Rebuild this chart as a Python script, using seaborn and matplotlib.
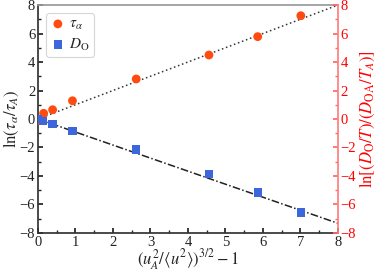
import numpy as np
import pandas as pd
import matplotlib
matplotlib.use("Agg")
import matplotlib.pyplot as plt
from matplotlib.ticker import MultipleLocator
import seaborn as sns

# data
x_tau = [0.0, 0.15, 0.39, 0.92, 2.62, 4.56, 5.86, 7.01]
y_tau = [-0.1, 0.4, 0.65, 1.28, 2.81, 4.49, 5.78, 7.25]
x_D = [0.0, 0.14, 0.39, 0.92, 2.62, 4.56, 5.87, 7.01]
y_D = [0.0, -0.13, -0.35, -0.82, -2.15, -3.86, -5.15, -6.55]
fit_x = [0.0, 8.0]
fit_tau = [0.0, 8.0]
fit_D = [0.0, -7.32]

sns.set_theme(style="ticks")
plt.rcParams['font.family'] = ['Liberation Serif', 'DejaVu Serif']
plt.rcParams['mathtext.fontset'] = 'stix'

fig = plt.figure(figsize=(3.78, 2.72), dpi=100)
ax = fig.add_axes([0.1005, 0.1434, 0.7935, 0.8382])

red = "#FF4A10"
blue = "#3D66DD"

sns.lineplot(x=fit_x, y=fit_tau, ax=ax, color="#333333", linestyle=(0, (1, 1.8)), lw=1.1, zorder=1)
sns.lineplot(x=fit_x, y=fit_D, ax=ax, color="#222222", linestyle=(0, (5, 1.5, 1, 1.5)), lw=1.1, zorder=1)
sns.scatterplot(x=x_tau, y=y_tau, ax=ax, color=red, marker="o", s=40, edgecolor="none",
                label=r"$\tau_\alpha$", zorder=3)
sns.scatterplot(x=x_D, y=y_D, ax=ax, color=blue, marker="s", s=36, edgecolor="none",
                label=r"$D_\mathrm{O}$", zorder=4)

ax.set_xlim(0, 8)
ax.set_ylim(-8, 8)
ax.xaxis.set_major_locator(MultipleLocator(1))
ax.xaxis.set_minor_locator(MultipleLocator(0.5))
ax.yaxis.set_major_locator(MultipleLocator(2))
ax.yaxis.set_minor_locator(MultipleLocator(1))
ax.tick_params(which='both', direction='in', labelsize=10.5, colors='#222222', pad=2)
ax.tick_params(which='major', length=3.5)
ax.tick_params(which='minor', length=2)
ax.set_xlabel(r"$(u_A^2/\langle u^2\rangle)^{3/2}-1$", fontsize=12, labelpad=-1)
ax.set_ylabel(r"$\ln(\tau_\alpha/\tau_A)$", fontsize=12, labelpad=-1)
for s in ['left', 'bottom']:
    ax.spines[s].set_color('#333333')
ax.spines['top'].set_visible(True)
ax.spines['top'].set_color('#999999')
ax.spines['right'].set_visible(False)

ax2 = ax.twinx()
ax2.set_ylim(-8, 8)
ax2.yaxis.set_major_locator(MultipleLocator(2))
ax2.yaxis.set_minor_locator(MultipleLocator(1))
ax2.tick_params(which='both', direction='in', colors='#FF6666', labelcolor='red', labelsize=10.5, pad=2)
ax2.tick_params(which='major', length=3.5)
ax2.tick_params(which='minor', length=2)
for s in ['left', 'bottom', 'top']:
    ax2.spines[s].set_visible(False)
ax2.spines['right'].set_visible(True)
ax2.spines['right'].set_color('#FF8080')
ax2.set_ylabel(r"$\ln[(D_\mathrm{O}/T)/(D_\mathrm{OA}/T_A)]$", color='red', fontsize=12, labelpad=1)

leg = ax.legend(loc='upper left', fontsize=11, frameon=True, handletextpad=0.2,
                borderpad=0.3, labelspacing=0.3, handlelength=1.0, borderaxespad=0.5)
leg.get_frame().set_edgecolor('#cccccc')
leg.get_frame().set_linewidth(0.8)

fig.savefig("out.png", dpi=100)
